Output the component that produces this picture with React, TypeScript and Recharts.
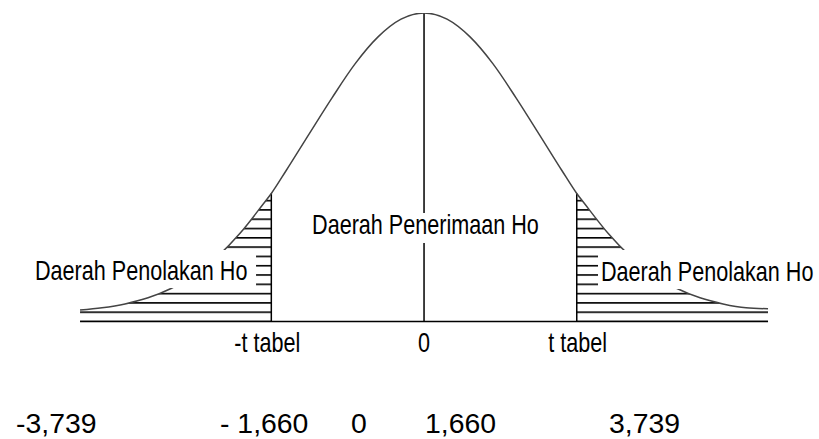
import React from 'react';
import {
  ComposedChart,
  Line,
  Area,
  XAxis,
  YAxis,
  ReferenceLine,
  ReferenceArea,
} from 'recharts';

// ---------- data ----------
const tValues = [
  -3.739, -3.5, -3.25, -3.0, -2.75, -2.5, -2.25, -2.0, -1.75, -1.66, -1.5, -1.25, -1.0, -0.75, -0.5, -0.25,
  0, 0.25, 0.5, 0.75, 1.0, 1.25, 1.5, 1.66, 1.75, 2.0, 2.25, 2.5, 2.75, 3.0, 3.25, 3.5, 3.739,
];
const density = [
  0.0148, 0.0178, 0.0228, 0.0307, 0.0428, 0.06, 0.0836, 0.1144, 0.152, 0.166, 0.1955, 0.243, 0.29, 0.334, 0.369, 0.392,
  0.4, 0.392, 0.369, 0.334, 0.29, 0.243, 0.1955, 0.166, 0.152, 0.1144, 0.0836, 0.06, 0.0428, 0.0307, 0.0228, 0.0178, 0.0165,
];
const tTabel = 1.66;
const curveEnd = 3.739;
const tickValues = [-1.66, 0, 1.66];
const tickLabels = ['-t tabel', '0', 't tabel'];
const regionLabels = ['Daerah Penolakan Ho', 'Daerah Penerimaan Ho', 'Daerah Penolakan Ho'];
const rowLabels = ['-3,739', '- 1,660', '0', '1,660', '3,739'];

// ---------- layout ----------
const W = 819;
const H = 439;
const TOP = 13;
const AXIS_H = 117.5;
const BASE_Y = H - AXIS_H; // plot bottom in px
const HATCH_GAP = 9.3;
const xDomain: [number, number] = [-4.609, 4.293];
const yDomain: [number, number] = [0, 0.4];
const FONT = "'Liberation Sans', Arial, sans-serif";
const NARROW = 0.8; // horizontal squeeze of the narrow label font
const LABEL_SIZE = 27;

// annotation boxes (data units) and text placement inside them (px)
const boxes = [
  { x1: -4.609, x2: -1.826, y1: 0.0434, y2: 0.0927, dx: 35, dy: 30 },
  { x1: -1.239, x2: 1.261, y1: 0.1018, y2: 0.1407, dx: 2, dy: 21 },
  { x1: 1.891, x2: 4.293, y1: 0.0421, y2: 0.0927, dx: 3, dy: 31 },
];
const tickDx = [-4, 0, 1];
const rowX = [16, 220, 351, 425, 609];

const data = tValues.map((t, i) => ({
  t,
  curve: density[i],
  left: t <= -tTabel ? density[i] : null,
  right: t >= tTabel ? density[i] : null,
}));

const valueAt = (t: number) => density[tValues.indexOf(t)];

const NarrowText = ({ x, y, anchor, children }: any) => (
  <text
    transform={`translate(${x},${y}) scale(${NARROW},1)`}
    x={0}
    y={0}
    textAnchor={anchor || 'start'}
    fontFamily={FONT}
    fontSize={LABEL_SIZE}
    fill="#000"
  >
    {children}
  </text>
);

const AxisTick = (props: any) => {
  const { x, y, payload } = props;
  const i = tickValues.indexOf(payload.value);
  if (i < 0) return null;
  return (
    <NarrowText x={x + tickDx[i]} y={y + 30.5} anchor="middle">
      {tickLabels[i]}
    </NarrowText>
  );
};

const BoxLabel = (props: any) => {
  const { viewBox, text, dx, dy } = props;
  if (!viewBox) return null;
  const { x, y, width, height } = viewBox;
  return (
    <g>
      <rect x={x} y={y} width={width} height={height} fill="#ffffff" />
      <NarrowText x={x + dx} y={y + dy}>
        {text}
      </NarrowText>
    </g>
  );
};

export default function App() {
  return (
    <div style={{ position: 'absolute', left: 0, top: 0, width: W, height: H, background: '#fff' }}>
      <svg width={0} height={0} style={{ position: 'absolute', left: 0, top: 0 }}>
        <defs>
          <pattern
            id="hatchH"
            patternUnits="userSpaceOnUse"
            x={0}
            y={BASE_Y - 0.8}
            width={8}
            height={HATCH_GAP}
          >
            <rect x={0} y={0} width={8} height={1.6} fill="#000" />
          </pattern>
        </defs>
      </svg>
      <ComposedChart
        width={W}
        height={H}
        data={data}
        margin={{ top: TOP, right: 0, bottom: 0, left: 0 }}
      >
        <XAxis
          dataKey="t"
          type="number"
          domain={xDomain}
          allowDataOverflow
          ticks={tickValues}
          tick={<AxisTick />}
          tickSize={0}
          tickMargin={0}
          axisLine={false}
          tickLine={false}
          height={AXIS_H}
          interval={0}
        />
        <YAxis type="number" domain={yDomain} hide allowDataOverflow />
        <Area
          dataKey="left"
          type="monotone"
          stroke="none"
          fill="url(#hatchH)"
          fillOpacity={1}
          isAnimationActive={false}
          connectNulls={false}
          dot={false}
          activeDot={false}
        />
        <Area
          dataKey="right"
          type="monotone"
          stroke="none"
          fill="url(#hatchH)"
          fillOpacity={1}
          isAnimationActive={false}
          connectNulls={false}
          dot={false}
          activeDot={false}
        />
        <ReferenceLine
          segment={[{ x: -curveEnd, y: 0 }, { x: curveEnd, y: 0 }]}
          stroke="#000"
          strokeWidth={1.6}
        />
        <ReferenceLine
          segment={[{ x: -tTabel, y: 0 }, { x: -tTabel, y: valueAt(-tTabel) }]}
          stroke="#000"
          strokeWidth={1.5}
        />
        <ReferenceLine
          segment={[{ x: tTabel, y: 0 }, { x: tTabel, y: valueAt(tTabel) }]}
          stroke="#000"
          strokeWidth={1.5}
        />
        <ReferenceLine
          segment={[{ x: 0, y: 0 }, { x: 0, y: valueAt(0) }]}
          stroke="#000"
          strokeWidth={1.5}
        />
        <Line
          dataKey="curve"
          type="monotone"
          stroke="#444"
          strokeWidth={1.5}
          dot={false}
          activeDot={false}
          isAnimationActive={false}
        />
        {boxes.map((b, i) => (
          <ReferenceArea
            key={i}
            x1={b.x1}
            x2={b.x2}
            y1={b.y1}
            y2={b.y2}
            fill="#fff"
            fillOpacity={0}
            stroke="none"
            ifOverflow="visible"
            {...({ zIndex: 3000 } as any)}
            label={<BoxLabel text={regionLabels[i]} dx={b.dx} dy={b.dy} />}
          />
        ))}
      </ComposedChart>
      <svg
        width={W}
        height={H}
        style={{ position: 'absolute', left: 0, top: 0, pointerEvents: 'none' }}
      >
        {rowLabels.map((s, i) => (
          <text key={i} x={rowX[i]} y={433} fontFamily={FONT} fontSize={28.4} fill="#000">
            {s}
          </text>
        ))}
      </svg>
    </div>
  );
}
